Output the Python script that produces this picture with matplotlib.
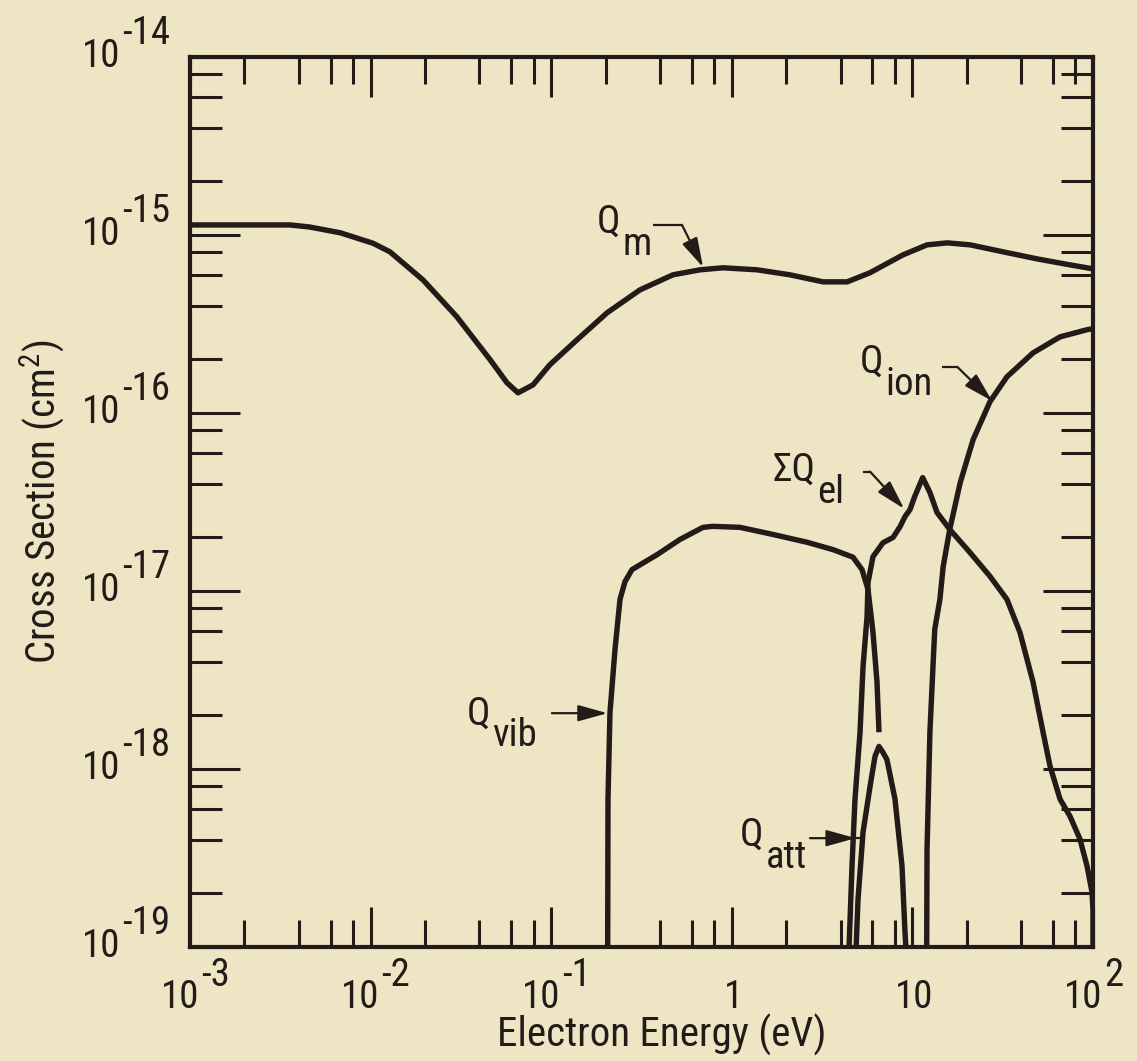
import matplotlib
matplotlib.use('Agg')
import matplotlib.pyplot as plt
from matplotlib import font_manager as fm
from matplotlib.ticker import LogLocator, NullFormatter

# ---------------- data ----------------
qm_energy = [1e-3, 3.58e-3, 4.6e-3, 6.8e-3, 0.0103, 0.0128, 0.0195, 0.030, 0.0458,
             0.0569, 0.0655, 0.0793, 0.0984, 0.139, 0.204, 0.310, 0.472, 0.667,
             0.893, 1.38, 2.10, 3.20, 4.35, 5.82, 8.87, 12.05, 15.6, 20.9, 31.8,
             49.0, 74.6, 100]
qm_sigma = [1.14e-15, 1.14e-15, 1.11e-15, 1.03e-15, 9.0e-16, 8.05e-16, 5.6e-16,
            3.48e-16, 2.0e-16, 1.48e-16, 1.30e-16, 1.44e-16, 1.87e-16, 2.58e-16,
            3.66e-16, 4.92e-16, 5.98e-16, 6.38e-16, 6.55e-16, 6.38e-16, 5.98e-16,
            5.46e-16, 5.46e-16, 6.14e-16, 7.74e-16, 8.81e-16, 9.04e-16, 8.81e-16,
            8.05e-16, 7.35e-16, 6.8e-16, 6.46e-16]

qvib_energy = [0.2055, 0.2063, 0.2116, 0.2256, 0.2404, 0.2563, 0.2802, 0.3853, 0.5165,
               0.6926, 0.787, 1.11, 1.69, 2.61, 3.63, 4.69, 5.26, 5.68, 6.05, 6.37, 6.53]
qvib_sigma = [1e-19, 6.78e-19, 2.08e-18, 4.70e-18, 8.97e-18, 1.13e-17, 1.32e-17,
              1.60e-17, 1.95e-17, 2.28e-17, 2.31e-17, 2.28e-17, 2.08e-17, 1.88e-17,
              1.71e-17, 1.55e-17, 1.32e-17, 1.02e-17, 5.86e-18, 3.07e-18, 1.61e-18]

qatt_energy = [4.88, 5.00, 5.33, 5.83, 6.21, 6.53, 6.87, 7.23, 8.01, 8.76, 9.10, 9.2]
qatt_sigma = [1e-19, 1.86e-19, 4.42e-19, 8.0e-19, 1.18e-18, 1.34e-18, 1.24e-18,
              1.13e-18, 6.77e-19, 2.85e-19, 1.21e-19, 1e-19]

qel_energy = [4.46, 4.63, 4.81, 5.13, 5.33, 5.61, 5.68, 6.05, 6.88, 7.81, 8.54, 9.10,
              9.70, 10.3, 11.4, 12.5, 13.7, 16.1, 20.8, 26.9, 33.4, 39.4, 46.6, 52.9,
              57.8, 65.7, 74.6, 84.7, 92.7, 98.7, 100, 100]
qel_sigma = [1e-19, 2.85e-19, 6.77e-19, 1.61e-18, 3.77e-18, 7.2e-18, 1.12e-17,
             1.56e-17, 1.87e-17, 2.0e-17, 2.30e-17, 2.62e-17, 2.87e-17, 3.40e-17,
             4.34e-17, 3.58e-17, 2.76e-17, 2.22e-17, 1.65e-17, 1.21e-17, 8.97e-18,
             5.86e-18, 3.07e-18, 1.61e-18, 1.04e-18, 6.77e-19, 5.43e-19, 4.04e-19,
             2.85e-19, 2.04e-19, 1.6e-19, 1e-19]

qion_energy = [12.0, 12.05, 12.5, 13.0, 13.3, 14.2, 14.8, 16.1, 18.4, 21.7, 26.9,
               33.4, 46.6, 65.7, 92.7, 100]
qion_sigma = [1e-19, 3.5e-19, 1.61e-18, 3.77e-18, 6.1e-18, 8.97e-18, 1.37e-17,
              2.22e-17, 4.07e-17, 7.1e-17, 1.16e-16, 1.60e-16, 2.18e-16, 2.68e-16,
              2.94e-16, 2.98e-16]

x_tick_pos = [1e-3, 1e-2, 1e-1, 1, 10, 100]
x_tick_base = ['10', '10', '10', '1', '10', '10']
x_tick_exp = ['-3', '-2', '-1', '', '', '2']
y_tick_pos = [1e-14, 1e-15, 1e-16, 1e-17, 1e-18, 1e-19]
y_tick_exp = ['-14', '-15', '-16', '-17', '-18', '-19']

x_label = 'Electron Energy (eV)'
y_label = 'Cross Section (cm$^{\\mathregular{2}}$)'

# ---------------- style ----------------
BG = '#ede5c4'
INK = '#231b17'


def pick_condensed():
    prefs = ['liberation sans narrow', 'roboto condensed', 'open sans condensed',
             'dejavu sans condensed', 'noto sans condensed', 'lato', 'roboto',
             'liberation sans']
    found = {}
    for f in fm.fontManager.ttflist:
        fn = f.fname.lower()
        if any(k in fn for k in ('bold', 'italic', 'oblique', 'light', 'thin',
                                 'black', 'medium', 'semi', 'extra')):
            continue
        if f.style != 'normal':
            continue
        nm = f.name.lower()
        key = nm
        if 'condensed' in fn or f.stretch in ('condensed', 'semi-condensed'):
            if 'condensed' not in nm:
                key = nm + ' condensed'
        if 'narrow' in fn and 'narrow' not in nm:
            key = nm + ' narrow'
        found.setdefault(key, f)
    for p in prefs:
        if p in found:
            return found[p]
    return None


chosen = pick_condensed()
if chosen is not None:
    FAM = chosen.name
    STRETCH = chosen.stretch
else:
    FAM, STRETCH = 'DejaVu Sans', 'normal'
plt.rcParams['font.family'] = [FAM, 'DejaVu Sans']
plt.rcParams['font.stretch'] = STRETCH
plt.rcParams['mathtext.fontset'] = 'custom'
plt.rcParams['mathtext.rm'] = f'{FAM}:stretch={STRETCH}'
FS = 28
FS_AX = 29.5

fig = plt.figure(figsize=(11.37, 10.61), dpi=100, facecolor=BG)
ax = fig.add_axes([0.1671, 0.1074, 0.7942, 0.8388])
ax.set_facecolor(BG)
ax.set_xscale('log')
ax.set_yscale('log')
ax.set_xlim(1e-3, 1e2)
ax.set_ylim(1e-19, 1e-14)

for a in (ax.xaxis, ax.yaxis):
    a.set_major_locator(LogLocator(base=10, numticks=12))
    a.set_minor_locator(LogLocator(base=10, subs=(2, 4, 6, 8), numticks=12))
    a.set_minor_formatter(NullFormatter())
ax.tick_params(which='both', direction='in', top=True, right=True,
               labelbottom=False, labelleft=False, color=INK, width=2.2)
ax.tick_params(axis='x', which='major', length=29)
ax.tick_params(axis='x', which='minor', length=19.5)
ax.tick_params(axis='y', which='major', length=36)
ax.tick_params(axis='y', which='minor', length=23)
for s in ax.spines.values():
    s.set_color(INK)
    s.set_linewidth(3.0)

LW = 3.9
kw = dict(color=INK, lw=LW, solid_joinstyle='round', solid_capstyle='butt', clip_on=True)
ax.plot(qm_energy, qm_sigma, **kw)
ax.plot(qvib_energy, qvib_sigma, **kw)
ax.plot(qatt_energy, qatt_sigma, **kw)
ax.plot(qel_energy, qel_sigma, **kw)
ax.plot(qion_energy, qion_sigma, **kw)

# ---------------- tick labels ----------------
for pos, base, ex in zip(x_tick_pos, x_tick_base, x_tick_exp):
    if ex:
        ax.annotate(base, xy=(pos, 0), xycoords=('data', 'axes fraction'),
                    xytext=(9, -61), textcoords='offset pixels', ha='right',
                    va='baseline', fontsize=FS, color=INK, annotation_clip=False)
        ax.annotate(ex, xy=(pos, 0), xycoords=('data', 'axes fraction'),
                    xytext=(11, -39), textcoords='offset pixels', ha='left',
                    va='baseline', fontsize=FS, color=INK, annotation_clip=False)
    else:
        ax.annotate(base, xy=(pos, 0), xycoords=('data', 'axes fraction'),
                    xytext=(2, -61), textcoords='offset pixels', ha='center',
                    va='baseline', fontsize=FS, color=INK, annotation_clip=False)

for pos, ex in zip(y_tick_pos, y_tick_exp):
    ax.annotate('10', xy=(0, pos), xycoords=('axes fraction', 'data'),
                xytext=(-70, -10), textcoords='offset pixels', ha='right',
                va='baseline', fontsize=FS, color=INK, annotation_clip=False)
    ax.annotate(ex, xy=(0, pos), xycoords=('axes fraction', 'data'),
                xytext=(-68, 13), textcoords='offset pixels', ha='left',
                va='baseline', fontsize=FS, color=INK, annotation_clip=False)

ax.annotate(x_label, xy=(0.5, 0), xycoords='axes fraction', xytext=(20, -100),
            textcoords='offset pixels', ha='center', va='baseline', fontsize=FS_AX,
            color=INK, annotation_clip=False)
ax.annotate(y_label, xy=(0, 0.5), xycoords='axes fraction', xytext=(-148, 0),
            textcoords='offset pixels', ha='center', va='center', rotation=90,
            fontsize=FS_AX, color=INK, annotation_clip=False)

# ---------------- curve labels ----------------
def label(main, sub, xy_main):
    t = ax.text(xy_main[0], xy_main[1], main, fontsize=FS, color=INK,
                ha='left', va='baseline')
    ax.annotate(sub, xy=(1, 0), xycoords=t, xytext=(2, -14),
                textcoords='offset pixels', fontsize=FS, color=INK,
                ha='left', va='baseline')


def pointer(path, tip):
    xs = [p[0] for p in path]
    ys = [p[1] for p in path]
    ax.plot(xs, ys, color=INK, lw=1.6, solid_capstyle='butt')
    ax.annotate('', xy=tip, xytext=path[-1],
                arrowprops=dict(arrowstyle='-|>,head_length=0.9,head_width=0.25',
                                color=INK, lw=1.6, shrinkA=0, shrinkB=0,
                                mutation_scale=20))


label('Q', 'm', (0.179, 1.03e-15))
pointer([(0.366, 1.14e-15), (0.530, 1.14e-15)], (0.693, 6.6e-16))

label('Q', 'ion', (5.13, 1.69e-16))
pointer([(14.6, 1.82e-16), (17.7, 1.82e-16)], (27.6, 1.17e-16))

label('\u03a3Q', 'el', (1.67, 4.15e-17))
pointer([(5.33, 4.69e-17), (5.83, 4.69e-17)], (9.0, 2.9e-17))

label('Q', 'vib', (0.0342, 1.78e-18))
pointer([(0.1009, 2.06e-18)], (0.205, 2.06e-18))

label('Q', 'att', (1.11, 3.69e-19))
ax.plot([4.8, 5.26], [4.09e-19, 4.09e-19], color=INK, lw=1.6)
pointer([(2.71, 4.09e-19)], (4.85, 4.09e-19))

fig.savefig('out.png', dpi=100, facecolor=BG)
